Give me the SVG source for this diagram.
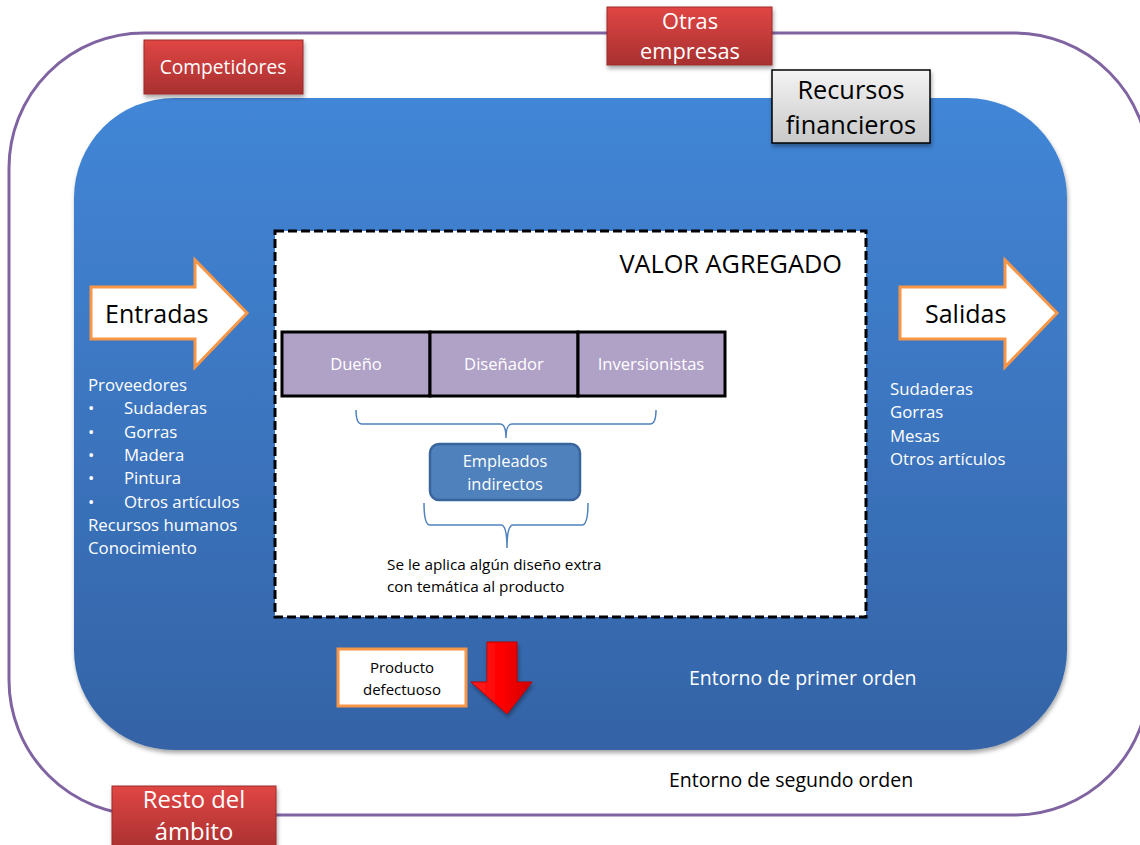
<svg xmlns="http://www.w3.org/2000/svg" width="1140" height="845" viewBox="0 0 1140 845">
<defs>
<linearGradient id="blueG" x1="0" y1="0" x2="0" y2="1"><stop offset="0" stop-color="#4286d7"/><stop offset="1" stop-color="#3463a6"/></linearGradient>
<linearGradient id="redG" x1="0" y1="0" x2="0" y2="1"><stop offset="0" stop-color="#e04644"/><stop offset="1" stop-color="#a83030"/></linearGradient>
<linearGradient id="grayG" x1="0" y1="0" x2="0" y2="1"><stop offset="0" stop-color="#f4f4f4"/><stop offset="1" stop-color="#c8c8c8"/></linearGradient>
<linearGradient id="arrowG" x1="0" y1="0" x2="1" y2="0"><stop offset="0" stop-color="#ff2020"/><stop offset="0.5" stop-color="#ff0000"/><stop offset="1" stop-color="#d00000"/></linearGradient>
<filter id="sh" x="-10%" y="-10%" width="120%" height="125%"><feDropShadow dx="1" dy="3" stdDeviation="2" flood-color="#000" flood-opacity="0.35"/></filter>
</defs>
<style>
text{font-family:"Open Sans","Liberation Sans",sans-serif}
.w{fill:#fff}
.k{fill:#000}
.red{fill:url(#redG);stroke:#9c2b2b;stroke-width:1;filter:url(#sh)}
.purple{fill:#b0a1c7;stroke:#000;stroke-width:3}
.brace{fill:none;stroke:#4f81bd;stroke-width:1.5}
.orange{fill:#fff;stroke:#f79646;stroke-width:3}
</style>
<rect width="1140" height="845" fill="#fff"/>
<g id="outer"><rect x="9" y="33" width="1140" height="782" rx="135" ry="135" fill="none" stroke="#8064a2" stroke-width="3"/></g>
<g id="inner"><rect x="74" y="98" width="993" height="652" rx="100" ry="100" fill="url(#blueG)" filter="url(#sh)"/></g>
<g id="valor"><rect x="275" y="231" width="591" height="386" fill="#fff" stroke="#000" stroke-width="3" stroke-dasharray="9,4"/>
<text x="842" y="273" font-size="25.3" text-anchor="end" class="k">VALOR AGREGADO</text></g>
<g id="dueno"><rect x="282" y="332" width="148" height="64" class="purple"/><text x="356" y="370" font-size="16.6" text-anchor="middle" class="w">Dueño</text></g>
<g id="disenador"><rect x="430" y="332" width="148" height="64" class="purple"/><text x="504" y="370" font-size="16.6" text-anchor="middle" class="w">Diseñador</text></g>
<g id="inversionistas"><rect x="578" y="332" width="147" height="64" class="purple"/><text x="651" y="370" font-size="16.6" text-anchor="middle" class="w">Inversionistas</text></g>
<g id="connectors">
<path class="brace" d="M356,410 Q356,424 362,424 L500,424 Q506,424 506,438 Q506,424 512,424 L650,424 Q656,424 656,410"/>
<path class="brace" d="M424,503 Q424,525 430,525 L501,525 Q507,525 507,548 Q507,525 513,525 L582,525 Q588,525 588,503"/>
</g>
<g id="empleados"><rect x="430" y="444" width="150" height="56" rx="9" fill="#4f81bd" stroke="#3a659a" stroke-width="2.5"/>
<text x="505" y="467" font-size="16.4" text-anchor="middle" class="w">Empleados</text><text x="505" y="490" font-size="16.4" text-anchor="middle" class="w">indirectos</text></g>
<g id="nota"><text x="387" y="570" font-size="15.3" class="k">Se le aplica algún diseño extra</text><text x="387" y="592" font-size="15.3" class="k">con temática al producto</text></g>
<g id="entradas"><path class="orange" d="M91,287 L195,287 L195,260 L247,313 L195,367 L195,339 L91,339 Z"/><text x="105" y="323" font-size="25" class="k">Entradas</text></g>
<g id="salidas"><path class="orange" d="M900,287 L1005,287 L1005,260 L1057,313 L1005,367 L1005,339 L900,339 Z"/><text x="925" y="323" font-size="25" class="k">Salidas</text></g>
<g id="lista-entradas" font-size="16.8">
<text x="88" y="391" class="w">Proveedores</text>
<text x="88" y="414" class="w">•</text><text x="124" y="414" class="w">Sudaderas</text>
<text x="88" y="438" class="w">•</text><text x="124" y="438" class="w">Gorras</text>
<text x="88" y="461" class="w">•</text><text x="124" y="461" class="w">Madera</text>
<text x="88" y="484" class="w">•</text><text x="124" y="484" class="w">Pintura</text>
<text x="88" y="508" class="w">•</text><text x="124" y="508" class="w">Otros artículos</text>
<text x="88" y="531" class="w">Recursos humanos</text>
<text x="88" y="554" class="w">Conocimiento</text>
</g>
<g id="lista-salidas" font-size="16.8">
<text x="890" y="395" class="w">Sudaderas</text>
<text x="890" y="418" class="w">Gorras</text>
<text x="890" y="442" class="w">Mesas</text>
<text x="890" y="465" class="w">Otros artículos</text>
</g>
<g id="competidores"><rect x="144" y="40" width="159" height="54" class="red"/><text x="223" y="74" font-size="19.2" text-anchor="middle" class="w">Competidores</text></g>
<g id="otras"><rect x="607" y="7" width="165" height="58" class="red"/><text x="690" y="29" font-size="21.8" text-anchor="middle" class="w">Otras</text><text x="690" y="59" font-size="21.8" text-anchor="middle" class="w">empresas</text></g>
<g id="recursos"><rect x="772" y="70" width="158" height="73" fill="url(#grayG)" stroke="#000" stroke-width="1.5" filter="url(#sh)"/><text x="851" y="99" font-size="25.3" text-anchor="middle" class="k">Recursos</text><text x="851" y="134" font-size="25.3" text-anchor="middle" class="k">financieros</text></g>
<g id="resto"><rect x="112" y="786" width="164" height="65" class="red"/><text x="194" y="808" font-size="23.8" text-anchor="middle" class="w">Resto del</text><text x="194" y="840" font-size="23.8" text-anchor="middle" class="w">ámbito</text></g>
<g id="producto"><rect x="338" y="649" width="128" height="57" class="orange"/><text x="402" y="673" font-size="15" text-anchor="middle" class="k">Producto</text><text x="402" y="695" font-size="15" text-anchor="middle" class="k">defectuoso</text></g>
<g id="flecha-roja"><path d="M487,642 L517,642 L517,682 L532,682 L507,714 L471,682 L487,682 Z" fill="url(#arrowG)" stroke="#c00000" stroke-width="1" filter="url(#sh)"/></g>
<g id="etiquetas"><text x="689" y="685" font-size="19.5" class="w">Entorno de primer orden</text><text x="669" y="787" font-size="19.5" class="k">Entorno de segundo orden</text></g>
</svg>
